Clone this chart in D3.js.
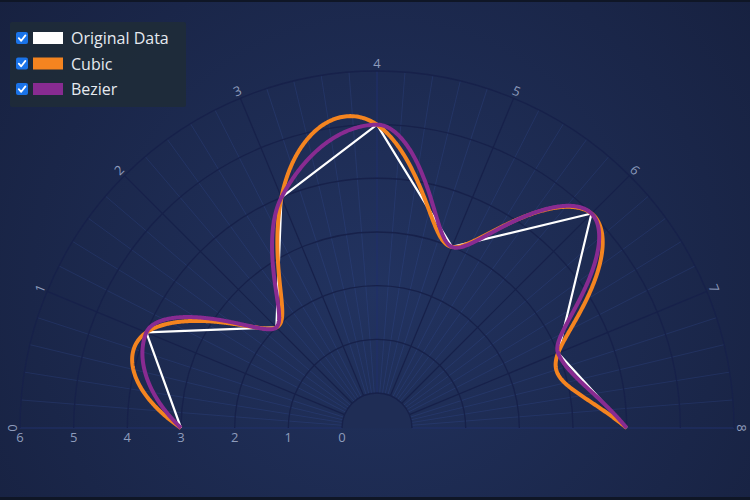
<!DOCTYPE html>
<html>
<head>
<meta charset="utf-8">
<script src="https://cdn.jsdelivr.net/npm/d3@7"></script>
<style>
  html, body { margin: 0; padding: 0; background: #0f1626; }
  svg { display: block; }
</style>
</head>
<body>
<svg id="chart" width="750" height="500"></svg>
<script>
// data
const xValues = [0, 1, 2, 3, 4, 5, 6, 7, 8];
const yValues = [3, 4, 2, 4, 5, 3, 5, 3, 4];
const angularTicks = [0, 1, 2, 3, 4, 5, 6, 7, 8];
const radialTicks = [0, 1, 2, 3, 4, 5, 6];
const seriesNames = ["Original Data", "Cubic", "Bezier"];
const seriesColors = ["#ffffff", "#f48420", "#882b91"];

const W = 750, H = 500;
const cx = 377, cy = 428;

const svg = d3.select("#chart");

// background
const defs = svg.append("defs");
const bg = defs.append("radialGradient").attr("id", "bg")
  .attr("gradientUnits", "userSpaceOnUse")
  .attr("cx", cx).attr("cy", 290).attr("r", 480);
bg.append("stop").attr("offset", "0%").attr("stop-color", "#223360");
bg.append("stop").attr("offset", "100%").attr("stop-color", "#172140");
svg.append("rect").attr("x", 0).attr("y", 2).attr("width", W).attr("height", H - 5)
  .attr("fill", "url(#bg)");

// scales
const angle = d3.scaleLinear().domain([0, 8]).range([-Math.PI / 2, Math.PI / 2]);
const radius = d3.scaleLinear().domain([0, 6]).range([35, 357]);

function project(a, v) {
  const t = angle(a), r = radius(v);
  return [cx + r * Math.sin(t), cy - r * Math.cos(t)];
}

const g = svg.append("g");

// minor radial lines
const minor = d3.range(0, 8.0001, 0.2).filter(d => Math.abs(d - Math.round(d)) > 1e-6);
g.selectAll(".minor").data(minor).join("line")
  .attr("x1", d => project(d, 0)[0]).attr("y1", d => project(d, 0)[1])
  .attr("x2", d => project(d, 6)[0]).attr("y2", d => project(d, 6)[1])
  .attr("stroke", "#3b58a8").attr("stroke-opacity", 0.22).attr("stroke-width", 1);

// major radial lines
g.selectAll(".major").data(angularTicks).join("line")
  .attr("x1", d => project(d, 0)[0]).attr("y1", d => project(d, 0)[1])
  .attr("x2", d => project(d, 6)[0]).attr("y2", d => project(d, 6)[1])
  .attr("stroke", d => (d === 0 || d === 4 || d === 8) ? "#20306a" : "#17214a")
  .attr("stroke-width", 1.2);

// inner disk
g.append("path")
  .attr("transform", `translate(${cx},${cy})`)
  .attr("d", d3.arc().innerRadius(0).outerRadius(radius(0))
    .startAngle(-Math.PI / 2).endAngle(Math.PI / 2)())
  .attr("fill", "#1f2d55");

// arcs
g.selectAll(".arc").data(radialTicks).join("path")
  .attr("transform", `translate(${cx},${cy})`)
  .attr("d", d => d3.arc().innerRadius(radius(d)).outerRadius(radius(d))
    .startAngle(-Math.PI / 2).endAngle(Math.PI / 2)())
  .attr("fill", "none").attr("stroke", "#17214a").attr("stroke-width", 1.3);

// radial labels (along the left axis)
g.selectAll(".rlab").data(radialTicks).join("text")
  .attr("x", d => cx - radius(d)).attr("y", 437)
  .attr("text-anchor", "middle").attr("dominant-baseline", "central")
  .attr("font-family", "Open Sans, sans-serif").attr("font-size", 13)
  .attr("fill", "#8e9cbc")
  .text(d => d);

// angular labels
g.selectAll(".alab").data(angularTicks).join("text")
  .attr("transform", d => {
    const t = angle(d), r = 365;
    return `translate(${cx + r * Math.sin(t)},${cy - r * Math.cos(t)}) rotate(${t * 180 / Math.PI})`;
  })
  .attr("text-anchor", "middle").attr("dominant-baseline", "central")
  .attr("font-family", "Open Sans, sans-serif").attr("font-size", 13)
  .attr("fill", "#8e9cbc")
  .text(d => d);

// interpolation in data space: build the curve with d3, sample it, then project
const sx = d3.scaleLinear().domain([0, 8]).range([0, 800]);
const sy = d3.scaleLinear().domain([0, 6]).range([0, 600]);
const pts = xValues.map((x, i) => [x, yValues[i]]);

function sampleCurve(curve) {
  const d = d3.line().x(p => sx(p[0])).y(p => sy(p[1])).curve(curve)(pts);
  const tmp = defs.append("path").attr("d", d).node();
  const len = tmp.getTotalLength();
  const out = [];
  const n = 1200;
  for (let i = 0; i <= n; i++) {
    const p = tmp.getPointAtLength(len * i / n);
    out.push(project(sx.invert(p.x), sy.invert(p.y)));
  }
  tmp.remove();
  return out;
}

const screenLine = d3.line();
const original = pts.map(p => project(p[0], p[1]));
const cubic = sampleCurve(d3.curveNatural);
const bezier = sampleCurve(d3.curveMonotoneX);

g.append("path").attr("d", screenLine(original))
  .attr("fill", "none").attr("stroke", seriesColors[0]).attr("stroke-width", 2.2)
  .attr("stroke-linejoin", "round");
g.append("path").attr("d", screenLine(cubic))
  .attr("fill", "none").attr("stroke", seriesColors[1]).attr("stroke-width", 4)
  .attr("stroke-linejoin", "round");
g.append("path").attr("d", screenLine(bezier))
  .attr("fill", "none").attr("stroke", seriesColors[2]).attr("stroke-width", 4)
  .attr("stroke-linejoin", "round");

// legend
const lg = svg.append("g").attr("transform", "translate(10,22)");
lg.append("rect").attr("width", 176).attr("height", 85).attr("rx", 2)
  .attr("fill", "#1e2b38").attr("fill-opacity", 0.92);
const row = lg.selectAll(".row").data(seriesNames).join("g")
  .attr("transform", (d, i) => `translate(0,${16 + i * 25.5})`);
row.append("rect").attr("x", 6).attr("y", -6).attr("width", 12).attr("height", 12).attr("rx", 2)
  .attr("fill", "#1a73e8");
row.append("path").attr("d", "M8.8,0.2 L11.2,2.8 L15.4,-2.6")
  .attr("fill", "none").attr("stroke", "#fff").attr("stroke-width", 1.8)
  .attr("stroke-linecap", "round").attr("stroke-linejoin", "round");
row.append("rect").attr("x", 23).attr("y", -6).attr("width", 30).attr("height", 12)
  .attr("fill", (d, i) => seriesColors[i]);
row.append("text").attr("x", 61).attr("y", 0).attr("dominant-baseline", "central")
  .attr("font-family", "Open Sans, sans-serif").attr("font-size", 16)
  .attr("fill", "#e6eaf0")
  .text(d => d);
</script>
</body>
</html>
